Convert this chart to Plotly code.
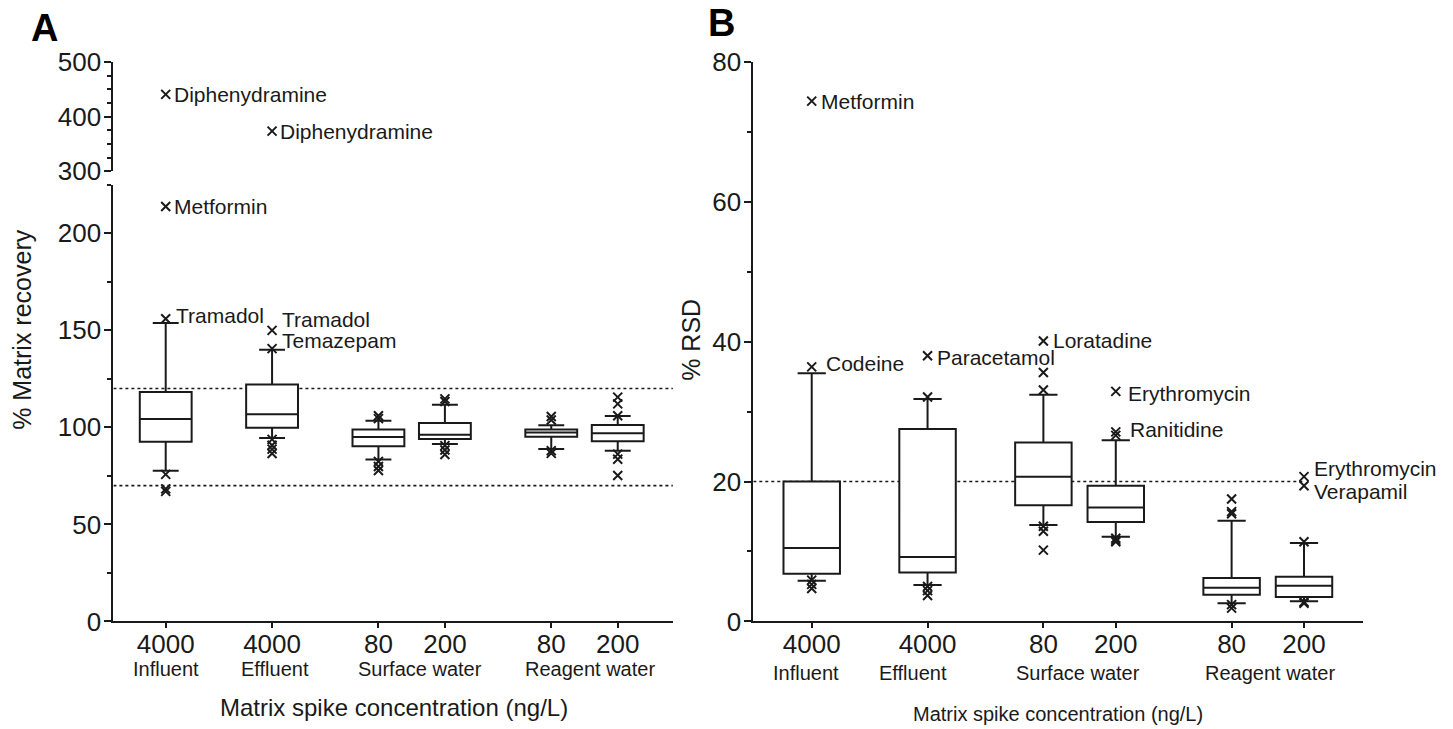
import plotly.graph_objects as go

# ---------------- data ----------------
positions = [0, 1.6, 3.2, 4.2, 5.8, 6.8]
conc_labels = ["4000", "4000", "80", "200", "80", "200"]
group_names = ["Influent", "Effluent", "Surface water", "Reagent water"]

# Panel A: % matrix recovery (box statistics)
a_q1 = [92.6, 99.8, 90.3, 94.0, 95.2, 92.8]
a_med = [104.3, 106.8, 95.0, 96.2, 97.3, 97.0]
a_q3 = [118.2, 122.1, 98.9, 102.2, 98.9, 101.2]
a_lo = [77.6, 94.5, 83.4, 91.4, 88.9, 87.9]
a_hi = [153.8, 140.0, 103.4, 111.7, 101.1, 105.9]
# unlabeled outliers (category index, value)
a_out_cat = [0, 0, 0, 1, 1, 1, 1, 2, 2, 2, 2, 2, 3, 3, 3, 3, 3, 4, 4, 4, 4, 5, 5, 5, 5, 5, 5]
a_out_val = [75.8, 68.3, 67.0, 93.8, 90.8, 88.8, 86.5, 106.0, 104.5, 82.4, 79.8, 77.8,
             114.7, 113.3, 90.6, 88.3, 86.0, 105.6, 103.8, 88.0, 86.6,
             115.6, 112.1, 106.0, 86.2, 83.6, 75.2]
# labelled outliers on lower segment
a_named_cat = [0, 0, 1, 1]
a_named_val = [213.8, 156.0, 150.0, 140.6]
a_named_txt = ["Metformin", "Tramadol", "Tramadol", "Temazepam"]
# labelled outliers on upper (broken) segment
a_upper_cat = [0, 1]
a_upper_val = [440.7, 373.4]
a_upper_txt = ["Diphenydramine", "Diphenydramine"]
a_limits = [70, 120]

# Panel B: % RSD
b_q1 = [6.8, 7.0, 16.6, 14.2, 3.8, 3.5]
b_med = [10.5, 9.2, 20.7, 16.3, 4.8, 5.1]
b_q3 = [20.0, 27.5, 25.6, 19.4, 6.2, 6.4]
b_lo = [5.8, 5.2, 13.8, 12.1, 2.6, 2.9]
b_hi = [35.5, 31.8, 32.4, 25.9, 14.4, 11.2]
b_out_cat = [0, 0, 0, 1, 1, 1, 1, 2, 2, 2, 2, 2, 3, 3, 3, 3, 4, 4, 4, 4, 4, 5, 5, 5]
b_out_val = [5.9, 5.3, 4.7, 32.1, 5.0, 4.4, 3.7, 35.6, 33.1, 13.6, 12.9, 10.2,
             26.6, 11.9, 11.6, 11.4, 17.5, 15.7, 15.4, 2.4, 1.9, 11.4, 2.8, 2.6]
b_named_cat = [0, 0, 1, 2, 3, 3, 5, 5]
b_named_val = [74.4, 36.4, 38.0, 40.1, 32.9, 27.1, 20.7, 19.4]
b_named_txt = ["Metformin", "Codeine", "Paracetamol", "Loratadine", "Erythromycin",
               "Ranitidine", "Erythromycin", "Verapamil"]
b_limits = [20]

# ---------------- style / layout helpers ----------------
W, H = 1453, 729
FONT = "Arial, Liberation Sans, sans-serif"
INK = "#1a1a1a"

# vertical screen calibration (target pixel row -> paper fraction)
T0, HP = 14.8, 697.6


def fx(p):
    return p / W


def fy(p):
    return 1 - (p - T0) / HP


a_xrange = [-0.787, 7.63]
b_xrange = [-0.807, 7.615]

# label offsets (pixels) for the named outliers: (xshift, yshift)
a_named_off = [(6, 0), (8, 3), (8, 11), (8, 8)]
a_upper_off = [(6, 0), (6, 0)]
b_named_off = [(7, 0), (12, 3), (7, -2), (8, 1), (10, -2), (12, 2), (8, 8), (8, -6)]

fig = go.Figure()

box_style = dict(fillcolor="white", line=dict(color=INK, width=2), width=0.78,
                 whiskerwidth=0.5, boxpoints=False, showlegend=False, hoverinfo="skip")
mk = dict(symbol="x-thin", size=9, color=INK, line=dict(width=2, color=INK))

# Panel A boxes
fig.add_trace(go.Box(x=positions, q1=a_q1, median=a_med, q3=a_q3,
                     lowerfence=a_lo, upperfence=a_hi, xaxis="x", yaxis="y", **box_style))
fig.add_trace(go.Scatter(x=[positions[i] for i in a_out_cat], y=a_out_val, mode="markers",
                         marker=mk, xaxis="x", yaxis="y", showlegend=False))
fig.add_trace(go.Scatter(x=[positions[i] for i in a_named_cat], y=a_named_val, mode="markers",
                         marker=mk, xaxis="x", yaxis="y", showlegend=False))
fig.add_trace(go.Scatter(x=[positions[i] for i in a_upper_cat], y=a_upper_val, mode="markers",
                         marker=mk, xaxis="x", yaxis="y3", showlegend=False))

# Panel B boxes
fig.add_trace(go.Box(x=positions, q1=b_q1, median=b_med, q3=b_q3,
                     lowerfence=b_lo, upperfence=b_hi, xaxis="x2", yaxis="y2", **box_style))
fig.add_trace(go.Scatter(x=[positions[i] for i in b_out_cat], y=b_out_val, mode="markers",
                         marker=mk, xaxis="x2", yaxis="y2", showlegend=False))
fig.add_trace(go.Scatter(x=[positions[i] for i in b_named_cat], y=b_named_val, mode="markers",
                         marker=mk, xaxis="x2", yaxis="y2", showlegend=False, cliponaxis=False))

axis_common = dict(showline=True, linecolor=INK, linewidth=2, ticks="outside",
                   tickwidth=2, tickcolor=INK, showgrid=False, zeroline=False,
                   tickfont=dict(family=FONT, size=26, color=INK))
xax = dict(ticklen=5, ticklabelstandoff=-7, **axis_common)
yax = dict(ticklen=7, ticklabelstandoff=-2, **axis_common)

fig.update_layout(
    width=W, height=H, margin=dict(l=0, r=0, t=0, b=0),
    paper_bgcolor="white", plot_bgcolor="white",
    font=dict(family=FONT, color=INK),
    xaxis=dict(domain=[fx(113.4), fx(672.9)], range=a_xrange, anchor="y",
               tickvals=positions, ticktext=conc_labels, **xax),
    yaxis=dict(domain=[fy(620), fy(184.3)], range=[0, 225], anchor="x",
               tickvals=[0, 50, 100, 150, 200],
               minor=dict(tickvals=[25, 75, 125, 175, 225], ticks="outside", ticklen=4,
                          tickwidth=2, tickcolor=INK),
               **yax),
    yaxis3=dict(domain=[fy(170.7), fy(61.7)], range=[300, 500], anchor="x",
                tickvals=[300, 400, 500],
                minor=dict(tickvals=[325, 350, 375, 425, 450, 475], ticks="outside",
                           ticklen=4, tickwidth=2, tickcolor=INK),
                **yax),
    xaxis2=dict(domain=[fx(753.3), fx(1363)], range=b_xrange, anchor="y2",
                tickvals=positions, ticktext=conc_labels, **xax),
    yaxis2=dict(domain=[fy(620), fy(61.7)], range=[0, 80], anchor="x2",
                tickvals=[0, 20, 40, 60, 80],
                minor=dict(tickvals=[10, 30, 50, 70], ticks="outside", ticklen=4,
                           tickwidth=2, tickcolor=INK),
                **yax),
)

# threshold lines
for v in a_limits:
    fig.add_shape(type="line", xref="x", yref="y", x0=a_xrange[0], x1=a_xrange[1], y0=v, y1=v,
                  line=dict(color=INK, width=1.6, dash="dot"), layer="below")
for v in b_limits:
    fig.add_shape(type="line", xref="x2", yref="y2", x0=b_xrange[0], x1=positions[-1], y0=v, y1=v,
                  line=dict(color=INK, width=1.6, dash="dot"), layer="below")

ann = []
lab_font = dict(family=FONT, size=21, color=INK)
for c, v, t, (dx, dy) in zip(a_named_cat, a_named_val, a_named_txt, a_named_off):
    ann.append(dict(x=positions[c], y=v, xref="x", yref="y", text=t, showarrow=False,
                    xanchor="left", yanchor="middle", xshift=dx, yshift=dy, font=lab_font))
for c, v, t, (dx, dy) in zip(a_upper_cat, a_upper_val, a_upper_txt, a_upper_off):
    ann.append(dict(x=positions[c], y=v, xref="x", yref="y3", text=t, showarrow=False,
                    xanchor="left", yanchor="middle", xshift=dx, yshift=dy, font=lab_font))
for c, v, t, (dx, dy) in zip(b_named_cat, b_named_val, b_named_txt, b_named_off):
    ann.append(dict(x=positions[c], y=v, xref="x2", yref="y2", text=t, showarrow=False,
                    xanchor="left", yanchor="middle", xshift=dx, yshift=dy, font=lab_font))

# group labels under the concentration ticks
group_pos_a = [0, 1.64, 3.82, 6.38]
group_pos_b = [-0.08, 1.40, 3.68, 6.33]
grp_font = dict(family=FONT, size=20, color=INK)
for g, p in zip(group_names, group_pos_a):
    ann.append(dict(x=p, y=fy(667), xref="x", yref="paper", text=g, showarrow=False,
                    xanchor="center", yanchor="middle", font=grp_font))
for g, p in zip(group_names, group_pos_b):
    ann.append(dict(x=p, y=fy(671), xref="x2", yref="paper", text=g, showarrow=False,
                    xanchor="center", yanchor="middle", font=grp_font))


def paper_text(x, y, text, size, angle=0, color=INK):
    return dict(x=fx(x), y=fy(y), xref="paper", yref="paper", showarrow=False,
                xanchor="center", yanchor="middle", textangle=angle, text=text,
                font=dict(family=FONT, size=size, color=color))


# axis titles
ann.append(paper_text(394, 706, "Matrix spike concentration (ng/L)", 24))
ann.append(paper_text(1058, 712, "Matrix spike concentration (ng/L)", 20))
ann.append(paper_text(22, 329, "% Matrix recovery", 25, -90))
ann.append(paper_text(691, 339, "% RSD", 25, -90))

# panel letters
ann.append(paper_text(44, 28, "<b>A</b>", 38, 0, "black"))
ann.append(paper_text(721, 23, "<b>B</b>", 38, 0, "black"))

fig.update_layout(annotations=ann)
fig.write_html("out.html")
